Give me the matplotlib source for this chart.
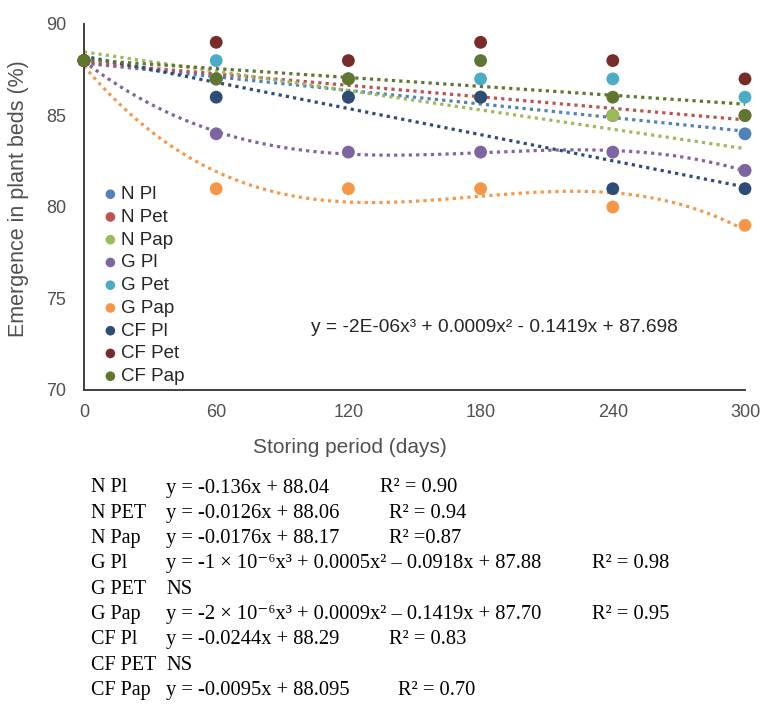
import numpy as np
import matplotlib
matplotlib.use("Agg")
import matplotlib.pyplot as plt

# ---------------- data ----------------
days = [0, 60, 120, 180, 240, 300]
series_names = ["N Pl", "N Pet", "N Pap", "G Pl", "G Pet", "G Pap", "CF Pl", "CF Pet", "CF Pap"]
n_pl   = [88, 87, 86, 86, 85, 84]
n_pet  = [88, 87, 87, 86, 85, 85]
n_pap  = [88, 87, 87, 86, 85, 82]
g_pl   = [88, 84, 83, 83, 83, 82]
g_pet  = [88, 88, 87, 87, 87, 86]
g_pap  = [88, 81, 81, 81, 80, 79]
cf_pl  = [88, 86, 86, 86, 81, 81]
cf_pet = [88, 89, 88, 89, 88, 87]
cf_pap = [88, 87, 87, 88, 86, 85]
series_values = [n_pl, n_pet, n_pap, g_pl, g_pet, g_pap, cf_pl, cf_pet, cf_pap]
# trendline polynomial order (0 = no trendline)
trend_order = [1, 1, 1, 3, 0, 3, 1, 0, 1]
colors = ["#4F81BD", "#C0504D", "#9BBB59", "#8064A2", "#4BACC6", "#F79646",
          "#2C4D75", "#772C2A", "#5F7530"]

x_ticks = [0, 60, 120, 180, 240, 300]
y_ticks = [70, 75, 80, 85, 90]
chart_equation = "y = -2E-06x\u00b3 + 0.0009x\u00b2 - 0.1419x + 87.698"

table_names = ["N Pl", "N PET", "N Pap", "G Pl", "G PET", "G Pap", "CF Pl", "CF PET", "CF Pap"]
table_eqs = ["y = -0.136x + 88.04",
             "y = -0.0126x + 88.06",
             "y = -0.0176x + 88.17",
             "y = -1 \u00d7 10\u207b\u2076x\u00b3 + 0.0005x\u00b2 \u2013 0.0918x + 87.88",
             "NS",
             "y = -2 \u00d7 10\u207b\u2076x\u00b3 + 0.0009x\u00b2 \u2013 0.1419x + 87.70",
             "y = -0.0244x + 88.29",
             "NS",
             "y = -0.0095x + 88.095"]
table_r2 = ["R\u00b2 = 0.90", "R\u00b2 = 0.94", "R\u00b2 =0.87", "R\u00b2 = 0.98", "",
            "R\u00b2 = 0.95", "R\u00b2 = 0.83", "", "R\u00b2 = 0.70"]

# ---------------- figure ----------------
W, H = 760, 710
fig = plt.figure(figsize=(W / 100, H / 100), dpi=100)
sans = ["Liberation Sans", "DejaVu Sans"]
serif = ["Liberation Serif", "DejaVu Serif"]
txt_color = "#505050"

def px(x, y):
    return x / W, 1 - y / H

ax = fig.add_axes([84 / W, 1 - 390 / H, (745 - 84) / W, (390 - 24) / H])
ax.set_xlim(0, 300)
ax.set_ylim(70, 90)
for s in ["top", "right"]:
    ax.spines[s].set_visible(False)
for s in ["left", "bottom"]:
    ax.spines[s].set_color("#404040")
    ax.spines[s].set_linewidth(1.4)
ax.set_xticks(x_ticks)
ax.set_yticks(y_ticks)
ax.tick_params(length=0, labelsize=13, labelcolor=txt_color)
ax.tick_params(axis="y", pad=13)
ax.tick_params(axis="x", pad=10)
for lab in ax.get_xticklabels() + ax.get_yticklabels():
    lab.set_fontfamily(sans)

xs = np.array(days, dtype=float)
xfit = np.linspace(0, 300, 300)
handles = []
for name, vals, order, c in zip(series_names, series_values, trend_order, colors):
    if order > 0:
        coef = np.polyfit(xs, np.array(vals, dtype=float), order)
        ax.plot(xfit, np.polyval(coef, xfit), linestyle=(0, (1, 1.3)), lw=2.3,
                color=c, zorder=2, clip_on=False)
for name, vals, c in zip(series_names, series_values, colors):
    h = ax.scatter(xs, vals, s=85, color=c, zorder=3, clip_on=False, label=name,
                   edgecolors="none")
    handles.append(h)

fig.text(*px(350, 447), "Storing period (days)", fontsize=15, color=txt_color,
         family=sans, ha="center", va="center")
fig.text(*px(19, 199), "Emergence in plant beds (%)", fontsize=15.5, color=txt_color,
         family=sans, ha="center", va="center", rotation=90)

leg = ax.legend(handles=handles, loc="upper left", bbox_to_anchor=px(101, 186),
                bbox_transform=fig.transFigure, frameon=False,
                handletextpad=0.05, labelspacing=0.3, borderpad=0, borderaxespad=0,
                handlelength=1.0, markerscale=0.75, prop={"family": sans, "size": 13.5})
for t in leg.get_texts():
    t.set_color("#262626")

fig.text(*px(311, 327), chart_equation, fontsize=13.8, color="#262626", family=sans,
         ha="left", va="center")

# ---------------- table ----------------
row_y0, row_dy = 488, 25.3
r2_x = [380, 389, 389, 592, 0, 592, 389, 0, 398]
for i, (nm, eq, r2) in enumerate(zip(table_names, table_eqs, table_r2)):
    y = row_y0 + i * row_dy
    fig.text(*px(91, y), nm, fontsize=14.5, family=serif, color="black", va="center")
    fig.text(*px(166, y), eq, fontsize=14.8, family=serif, color="black", va="center")
    if r2:
        fig.text(*px(r2_x[i], y), r2, fontsize=14.8, family=serif, color="black", va="center")

fig.savefig("out.png", dpi=100)
